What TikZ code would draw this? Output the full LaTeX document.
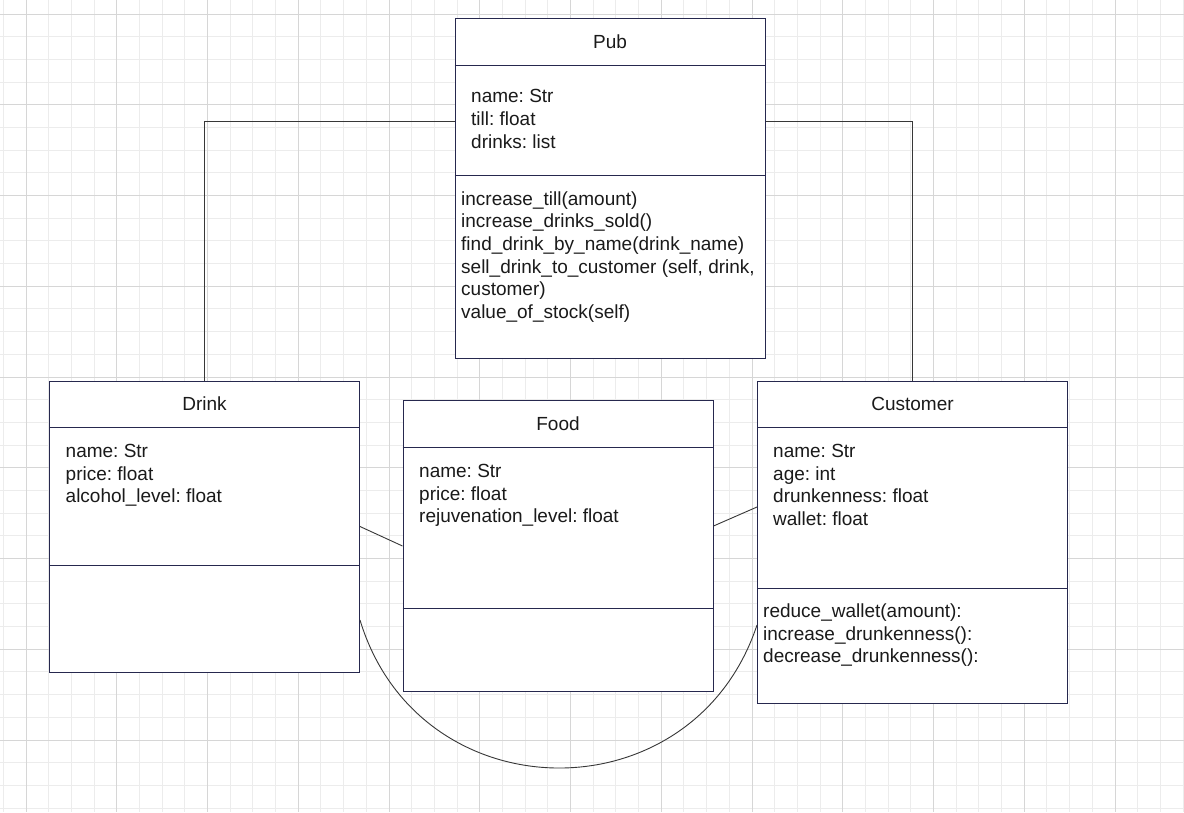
\documentclass[tikz,border=0pt]{standalone}
\usepackage{fontspec}
\setmainfont{Liberation Sans}
\usetikzlibrary{calc}
\frenchspacing

\definecolor{boxline}{RGB}{38,40,78}
\definecolor{txt}{RGB}{26,26,26}
\definecolor{gridminor}{RGB}{236,236,236}
\definecolor{gridmajor}{RGB}{214,214,214}
\definecolor{wirecol}{RGB}{55,55,55}

% member list: first baseline is the reference point
\newcommand{\umllines}[1]{\begin{minipage}[t]{300pt}\raggedright #1\end{minipage}}

\tikzset{
  classbox/.style={draw=boxline, line width=1pt, fill=white, minimum width=310pt, inner sep=0pt},
  divider/.style={draw=boxline, line width=1pt},
  classtitle/.style={anchor=base, inner sep=0pt, text=txt},
  members/.style={anchor=base west, inner sep=0pt, text=txt},
  wire/.style={draw=wirecol, line width=0.9pt},
}

\begin{document}
\begin{tikzpicture}[x=1pt, y=-1pt, font=\fontsize{19}{22.7}\selectfont]
\useasboundingbox (0,0) rectangle (1184,812);
\fill[white] (0,0) rectangle (1184,812);

% background grid
\foreach \i in {0,...,52} \draw[gridminor, line width=1pt] ({3.3125+22.6875*\i},0) -- ({3.3125+22.6875*\i},812);
\foreach \j in {0,...,35} \draw[gridminor, line width=1pt] (0,{14+22.6875*\j}) -- (1184,{14+22.6875*\j});
\foreach \i in {0,...,12} \draw[gridmajor, line width=1pt] ({26+90.75*\i},0) -- ({26+90.75*\i},812);
\foreach \j in {0,...,8} \draw[gridmajor, line width=1pt] (0,{14+90.75*\j}) -- (1184,{14+90.75*\j});

% Pub
\node[classbox, minimum height=340pt] (pub) at (610,188) {};
\draw[divider] (pub.west |- 0,65) -- (pub.east |- 0,65);
\draw[divider] (pub.west |- 0,175) -- (pub.east |- 0,175);
\node[classtitle] (pubT) at (610,48.3) {Pub};
\node[members] (pubA) at (471,102.7) {\umllines{name: Str\\till: float\\drinks: list}};
\node[members] (pubM) at (461,205) {\umllines{increase\_till(amount)\\increase\_drinks\_sold()\\find\_drink\_by\_name(drink\_name)\\sell\_drink\_to\_customer (self, drink,\\customer)\\value\_of\_stock(self)}};

% Drink
\node[classbox, minimum height=291pt] (drink) at (204.5,526.5) {};
\draw[divider] (drink.west |- 0,427) -- (drink.east |- 0,427);
\draw[divider] (drink.west |- 0,565) -- (drink.east |- 0,565);
\node[classtitle] (drinkT) at (204.5,410) {Drink};
\node[members] (drinkA) at (65.5,457.3) {\umllines{name: Str\\price: float\\alcohol\_level: float}};

% Food
\node[classbox, minimum height=291pt] (food) at (558,546) {};
\draw[divider] (food.west |- 0,447) -- (food.east |- 0,447);
\draw[divider] (food.west |- 0,608) -- (food.east |- 0,608);
\node[classtitle] (foodT) at (558,430) {Food};
\node[members] (foodA) at (419,477.3) {\umllines{name: Str\\price: float\\rejuvenation\_level: float}};

% Customer
\node[classbox, minimum height=322pt] (customer) at (912.5,542) {};
\draw[divider] (customer.west |- 0,427) -- (customer.east |- 0,427);
\draw[divider] (customer.west |- 0,588.5) -- (customer.east |- 0,588.5);
\node[classtitle] (customerT) at (912.5,410) {Customer};
\node[members] (customerA) at (773,457.3) {\umllines{name: Str\\age: int\\drunkenness: float\\wallet: float}};
\node[members] (customerM) at (763,617.3) {\umllines{reduce\_wallet(amount):\\increase\_drunkenness():\\decrease\_drunkenness():}};

% associations
\draw[wire] ([yshift=67pt]pub.west) -| (drink.north);
\draw[wire] ([yshift=67pt]pub.east) -| (customer.north);
\draw[wire] (drink.east) -- (food.west);
\draw[wire] ([yshift=20pt]food.east) -- ([yshift=35pt]customer.west);
\draw[wire] ([yshift=-93.5pt]drink.east) .. controls +(59,195) and +(-64,193) .. ([yshift=-83pt]customer.west);
\end{tikzpicture}
\end{document}
